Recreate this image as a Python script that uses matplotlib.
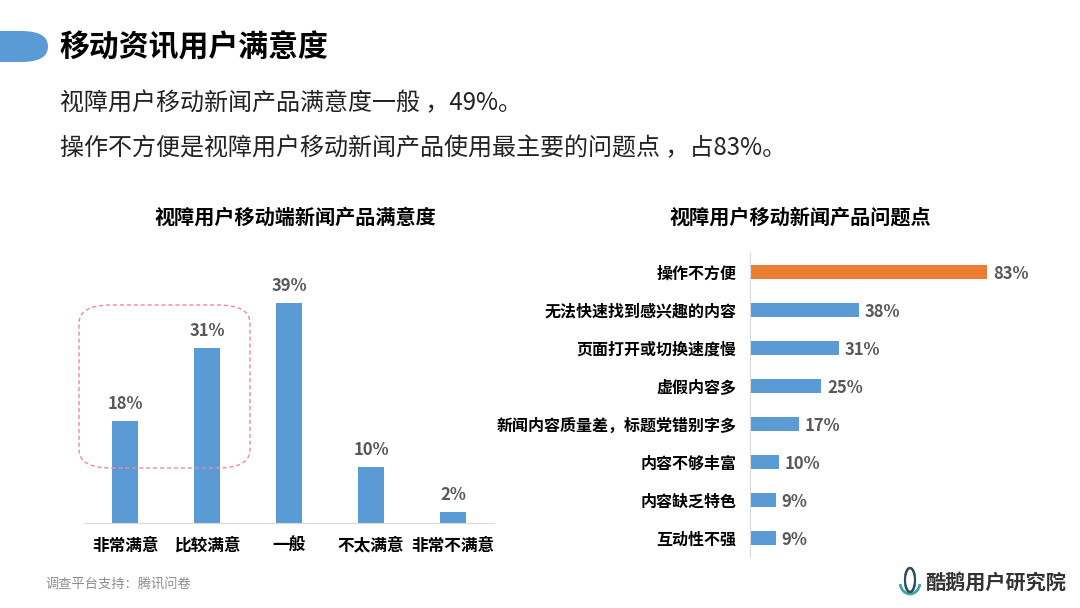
import matplotlib
matplotlib.use('Agg')
import matplotlib.pyplot as plt
from matplotlib.patches import FancyBboxPatch, Arc

plt.rcParams['font.family'] = ['Noto Sans CJK SC', 'DejaVu Sans']

# data
sat_labels = ['非常满意', '比较满意', '一般', '不太满意', '非常不满意']
sat_values = [18, 31, 39, 10, 2]

issue_labels = ['操作不方便', '无法快速找到感兴趣的内容', '页面打开或切换速度慢', '虚假内容多',
                '新闻内容质量差，标题党错别字多', '内容不够丰富', '内容缺乏特色', '互动性不强']
issue_values = [83, 38, 31, 25, 17, 10, 9, 9]

BLUE = '#5b9bd5'
ORANGE = '#ed7d31'
W, H = 1080, 608

fig = plt.figure(figsize=(10.8, 6.08), dpi=100)
fig.patch.set_facecolor('white')

def fx(px):
    return px / W

def fy(py):
    return 1 - py / H

# header
fig.patches.append(FancyBboxPatch((fx(-30), fy(62)), fx(78), fy(31) - fy(62),
                                  boxstyle='round,pad=0,rounding_size=0.025',
                                  transform=fig.transFigure, facecolor=BLUE, edgecolor='none'))
fig.text(fx(59), fy(47), '移动资讯用户满意度', fontsize=21.5, fontweight='bold', va='center', color='black')
fig.text(fx(60), fy(103), '视障用户移动新闻产品满意度一般 ，49%。', fontsize=17.3, va='center', color='#222222')
fig.text(fx(60), fy(148), '操作不方便是视障用户移动新闻产品使用最主要的问题点 ，占83%。', fontsize=17.3, va='center', color='#222222')

# left chart
ax1 = fig.add_axes([fx(84), fy(523), fx(410), fy(269) - fy(523)])
x = range(len(sat_values))
ax1.bar(x, sat_values, width=0.31, color=BLUE)
ax1.set_xlim(-0.5, 4.5)
ax1.set_ylim(0, 45)
for i, v in enumerate(sat_values):
    ax1.text(i, v + 1.4, f'{v}%', ha='center', va='bottom', fontsize=12, fontweight='bold', color='#595959')
ax1.set_xticks(list(x))
ax1.set_xticklabels(sat_labels, fontsize=12, fontweight='bold')
ax1.tick_params(axis='x', length=0, pad=10)
ax1.set_yticks([])
for s in ['top', 'right', 'left']:
    ax1.spines[s].set_visible(False)
ax1.spines['bottom'].set_color('#d9d9d9')
fig.text(fx(295), fy(217), '视障用户移动端新闻产品满意度', fontsize=14.5, fontweight='bold', ha='center', va='center')

# dashed highlight box
fig.patches.append(FancyBboxPatch((fx(79), fy(468)), fx(171), fy(305) - fy(468),
                                  boxstyle='round,pad=0,rounding_size=0.03',
                                  transform=fig.transFigure, facecolor='none',
                                  edgecolor='#f08a9a', linestyle=(0, (3, 2)), linewidth=1))

# right chart
ax2 = fig.add_axes([fx(750), fy(557), fx(300), fy(253) - fy(557)])
y = range(len(issue_values))
colors = [ORANGE] + [BLUE] * (len(issue_values) - 1)
ax2.barh(y, issue_values, height=0.35, color=colors)
ax2.set_ylim(len(issue_values) - 0.5, -0.5)
ax2.set_xlim(0, 105)
for i, v in enumerate(issue_values):
    ax2.text(v + 2, i + 0.04, f'{v}%', va='center', ha='left', fontsize=12, fontweight='bold', color='#595959')
ax2.set_yticks(list(y))
ax2.set_yticklabels(issue_labels, fontsize=11.5, fontweight='bold')
ax2.tick_params(axis='y', length=0, pad=10)
ax2.set_xticks([])
for s in ['top', 'right', 'bottom']:
    ax2.spines[s].set_visible(False)
ax2.spines['left'].set_color('#d9d9d9')
fig.text(fx(800), fy(217), '视障用户移动新闻产品问题点', fontsize=14.5, fontweight='bold', ha='center', va='center')

# footer
fig.text(fx(45), fy(584), '调查平台支持：腾讯问卷', fontsize=9.5, color='#8c8c8c', va='center')
# small logo mark
fig.patches.append(Arc((fx(910), fy(582)), fx(20), fy(570) - fy(594), theta1=200, theta2=340,
                       transform=fig.transFigure, color='#3aa6a0', linewidth=2))
fig.patches.append(Arc((fx(910), fy(580)), fx(10), fy(568) - fy(592), theta1=60, theta2=300,
                       transform=fig.transFigure, color='#2f4f5f', linewidth=1.6))
fig.patches.append(Arc((fx(910), fy(580)), fx(10), fy(568) - fy(592), theta1=240, theta2=480,
                       transform=fig.transFigure, color='#2f4f5f', linewidth=1.6))
fig.text(fx(925), fy(582), '酷鹅用户研究院', fontsize=14.5, fontweight='bold', style='italic', color='#333333', va='center')

fig.savefig('out.png', dpi=100, facecolor='white')
